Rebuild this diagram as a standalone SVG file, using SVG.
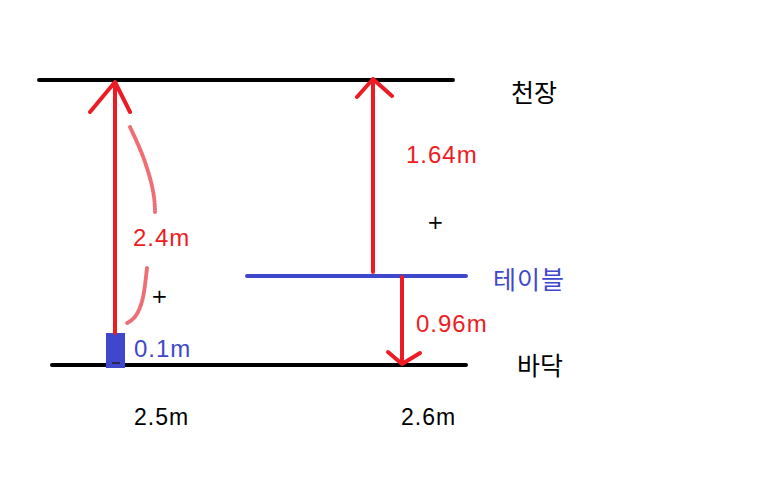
<svg xmlns="http://www.w3.org/2000/svg" width="760" height="504" viewBox="0 0 760 504">
<style>
.blk{stroke:#000;stroke-width:4;stroke-linecap:round;fill:none}
.blu{stroke:#3f48cc;stroke-width:4;stroke-linecap:round;fill:none}
.red{stroke:#ed1c24;stroke-width:4;stroke-linecap:round;stroke-linejoin:round;fill:none}
.brace{stroke:#e8303a;stroke-width:4;stroke-linecap:round;fill:none;stroke-dasharray:1 1.6;opacity:0.7}
.t{font-family:"Liberation Sans",Arial,sans-serif;font-size:24px;letter-spacing:1px}
.k{font-family:"Noto Sans CJK KR",sans-serif;font-size:25px}
.p{font-family:"DejaVu Sans",sans-serif;font-size:20px}
</style>
<rect width="760" height="504" fill="#fff"/>
<g id="ceiling"><line class="blk" x1="39" y1="80" x2="453" y2="80"/><text class="k" x="511" y="102" fill="#000">천장</text></g>
<g id="floor"><line class="blk" x1="52" y1="365" x2="466" y2="365"/><text class="k" x="517" y="375" fill="#000">바닥</text></g>
<g id="table"><line class="blu" x1="247" y1="276" x2="466" y2="276"/><text class="k" x="493" y="289" fill="#3f48cc" style="letter-spacing:1px">테이블</text></g>
<g id="box"><rect x="106" y="333" width="19" height="35" fill="#3f48cc"/><line x1="112" y1="363" x2="120" y2="363" stroke="#222" stroke-width="1.5"/><text class="t" x="134" y="357" fill="#3f48cc">0.1m</text></g>
<g id="connectors">
<path class="red" d="M115 333 V82 M90 112 L115 82 L130 112"/>
<path class="red" d="M373 272 V79 M357 97 L373 79 L392 96"/>
<path class="red" d="M402 277 V364 M388 352 L402 364 L420 353"/>
<path class="brace" d="M130 127 C136 140 141 150 146 165 C151 180 155 195 155 212"/>
<path class="brace" d="M147 268 C145 285 144 300 138 312 C135 318 131 321 127 323"/>
</g>
<g id="labels">
<text class="t" x="133" y="246" fill="#ed1c24">2.4m</text>
<text class="t" x="406" y="163" fill="#ed1c24">1.64m</text>
<text class="t" x="416" y="332" fill="#ed1c24">0.96m</text>
<text class="t" x="134" y="425" fill="#000" style="font-size:23px">2.5m</text>
<text class="t" x="401" y="425" fill="#000" style="font-size:23px">2.6m</text>
<text class="p" x="151" y="303" fill="#000">+</text>
<text class="p" x="427" y="229" fill="#000">+</text>
</g>
</svg>
